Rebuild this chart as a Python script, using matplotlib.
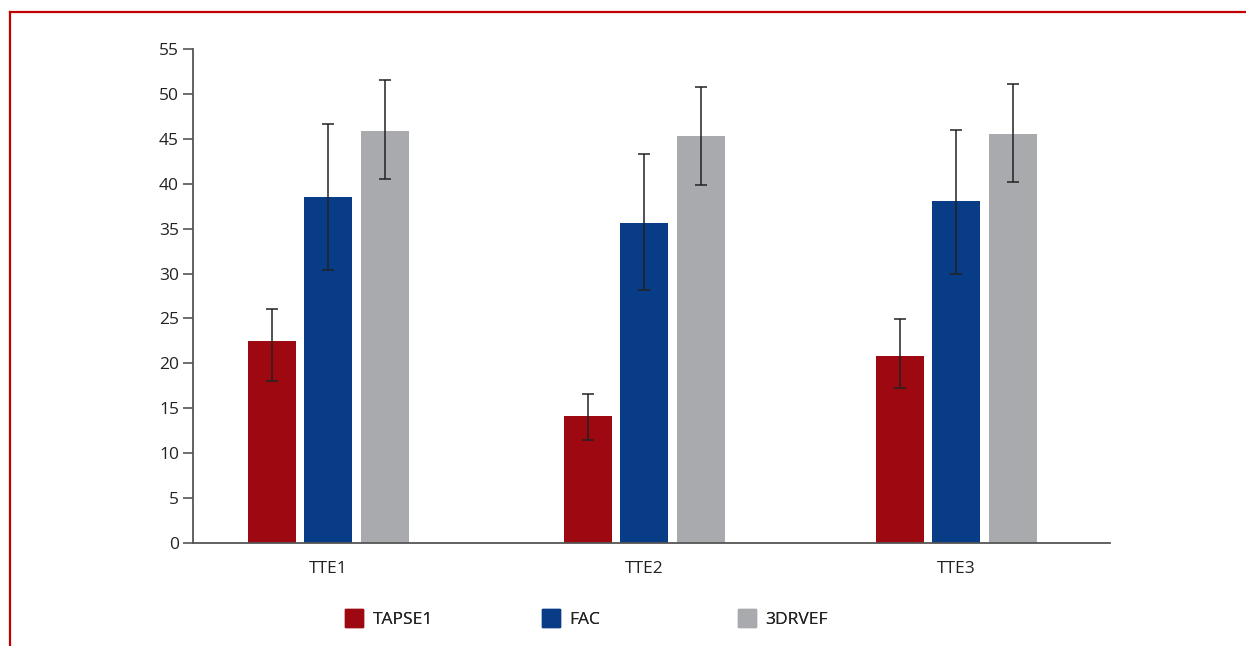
import numpy as np
import matplotlib.pyplot as plt
from matplotlib.lines import Line2D
from matplotlib.patches import Patch

plt.rcParams['font.family'] = ['Open Sans', 'DejaVu Sans']

# Echo time points and measured means with error bar ends
groups = ['TTE1', 'TTE2', 'TTE3']
series = ['TAPSE1', 'FAC', '3DRVEF']
colors = ['#9E0811', '#083C87', '#A9AAAD']

means = {
    'TAPSE1': [22.5, 14.1, 20.8],
    'FAC': [38.5, 35.6, 38.1],
    '3DRVEF': [45.9, 45.3, 45.5],
}
err_low = {
    'TAPSE1': [18.0, 11.5, 17.3],
    'FAC': [30.4, 28.2, 30.0],
    '3DRVEF': [40.5, 39.9, 40.2],
}
err_high = {
    'TAPSE1': [26.1, 16.6, 24.9],
    'FAC': [46.7, 43.3, 46.0],
    '3DRVEF': [51.6, 50.8, 51.1],
}

fig = plt.figure(figsize=(12.46, 6.46), dpi=100)
ax = fig.add_axes([0.1549, 0.1594, 0.7360, 0.7647])

x = np.array([0.0, 1.006, 2.0])
width = 0.153
offsets = [-0.178, 0.0, 0.180]

for name, col, off in zip(series, colors, offsets):
    m = np.array(means[name])
    lo = m - np.array(err_low[name])
    hi = np.array(err_high[name]) - m
    ax.bar(x + off, m, width, color=col, zorder=2)
    ax.errorbar(x + off, m, yerr=[lo, hi], fmt='none', ecolor='#222222',
                elinewidth=1.1, capsize=4.3, capthick=1.1, zorder=3)

ax.set_xlim(-0.43, 2.49)
ax.set_ylim(0, 55)
ax.set_yticks(np.arange(0, 56, 5))
ax.set_xticks(x)
ax.set_xticklabels(groups)
ax.tick_params(axis='y', length=7, width=1.2, color='#555555', labelsize=12.5,
               labelcolor='#222222', pad=3)
ax.tick_params(axis='x', length=0, labelsize=12.5, labelcolor='#222222', pad=13)
for side in ['top', 'right']:
    ax.spines[side].set_visible(False)
for side in ['left', 'bottom']:
    ax.spines[side].set_color('#555555')
    ax.spines[side].set_linewidth(1.3)

# legend entries at fixed spots below the axis
leg_x = [0.277, 0.435, 0.592]
for name, col, lx in zip(series, colors, leg_x):
    lg = fig.legend(handles=[Patch(color=col, label=name)], loc='center left',
                    bbox_to_anchor=(lx, 0.043), frameon=False, fontsize=12.5,
                    handlelength=1.04, handleheight=1.27, handletextpad=0.55,
                    borderpad=0, borderaxespad=0)
    for t in lg.get_texts():
        t.set_color('#222222')
    fig.add_artist(lg)

# red frame lines on the top and left
fig.add_artist(Line2D([0.008, 1.0], [0.981, 0.981], color='#C00000', lw=1.6))
fig.add_artist(Line2D([0.008, 0.008], [0.0, 0.981], color='#C00000', lw=1.6))

fig.savefig('out.png', dpi=100)
